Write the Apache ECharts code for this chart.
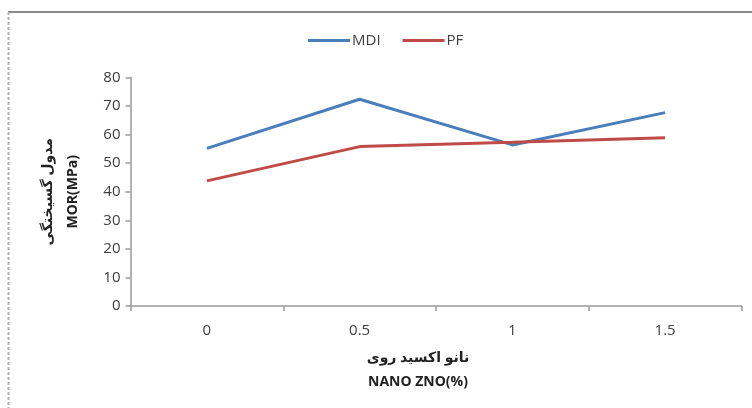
<!DOCTYPE html>
<html>
<head>
<meta charset="utf-8">
<script src="https://cdn.jsdelivr.net/npm/echarts@6/dist/echarts.min.js"></script>
<style>html,body{margin:0;padding:0;background:#fff}#c{width:752px;height:408px}</style>
</head>
<body>
<div id="c"></div>
<script>
const categories = ['0', '0.5', '1', '1.5'];
const mdi = [55.2, 72.4, 56.4, 67.7];
const pf = [43.8, 55.8, 57.3, 58.9];
const yTicks = [0, 10, 20, 30, 40, 50, 60, 70, 80];

const chart = echarts.init(document.getElementById('c'));
const FONT = '"Open Sans", "DejaVu Sans", sans-serif';
chart.setOption({
  animation: false,
  backgroundColor: '#fff',
  textStyle: { fontFamily: FONT },
  legend: {
    top: 33,
    left: 308,
    padding: 0,
    itemWidth: 42,
    itemHeight: 3,
    itemGap: 22,
    icon: 'rect',
    textStyle: { fontSize: 15, color: '#404040', fontFamily: FONT, padding: [0, 0, 0, -3] },
    data: ['MDI', 'PF']
  },
  grid: { left: 130.5, right: 10.5, top: 77.5, bottom: 102 },
  xAxis: {
    type: 'category',
    data: categories,
    boundaryGap: true,
    axisLine: { lineStyle: { color: '#9a9a9a', width: 1.5 } },
    axisTick: { show: true, length: 5, lineStyle: { color: '#9a9a9a', width: 1.5 } },
    axisLabel: { fontSize: 15, color: '#404040', margin: 17, fontFamily: FONT },
    splitLine: { show: false }
  },
  yAxis: {
    type: 'value',
    min: yTicks[0],
    max: yTicks[yTicks.length - 1],
    interval: 10,
    axisLine: { show: true, lineStyle: { color: '#9a9a9a', width: 1.5 } },
    axisTick: { show: true, length: 5, lineStyle: { color: '#9a9a9a', width: 1.5 } },
    axisLabel: { fontSize: 15, color: '#404040', margin: 10, fontFamily: FONT },
    splitLine: { show: false },
    name: 'مدول گسیختگی\nMOR(MPa)',
    nameLocation: 'middle',
    nameRotate: 90,
    nameGap: 45,
    nameTextStyle: { fontSize: 14, fontWeight: 'bold', color: '#222', lineHeight: 25, fontFamily: FONT }
  },
  graphic: [
    { type: 'line', shape: { x1: 8, y1: 12, x2: 752, y2: 12 }, style: { stroke: '#8a8a8a', lineWidth: 2 } },
    { type: 'line', shape: { x1: 8.5, y1: 12, x2: 8.5, y2: 408 }, style: { stroke: '#b0b0b0', lineWidth: 2, lineDash: [3, 2] } },
    { type: 'text', style: { text: 'نانو اکسید روی', x: 418, y: 358, align: 'center', verticalAlign: 'middle', font: 'bold 14px "Open Sans", "DejaVu Sans", sans-serif', fill: '#222' } },
    { type: 'text', style: { text: 'NANO ZNO(%)', x: 418, y: 382, align: 'center', verticalAlign: 'middle', font: 'bold 14px "Open Sans", "DejaVu Sans", sans-serif', fill: '#222' } }
  ],
  series: [
    { name: 'MDI', type: 'line', data: mdi, showSymbol: false, symbol: 'none',
      lineStyle: { color: '#4A7EBB', width: 3 }, itemStyle: { color: '#4A7EBB' } },
    { name: 'PF', type: 'line', data: pf, showSymbol: false, symbol: 'none',
      lineStyle: { color: '#BE4B48', width: 3 }, itemStyle: { color: '#BE4B48' } }
  ]
});
</script>
</body>
</html>
